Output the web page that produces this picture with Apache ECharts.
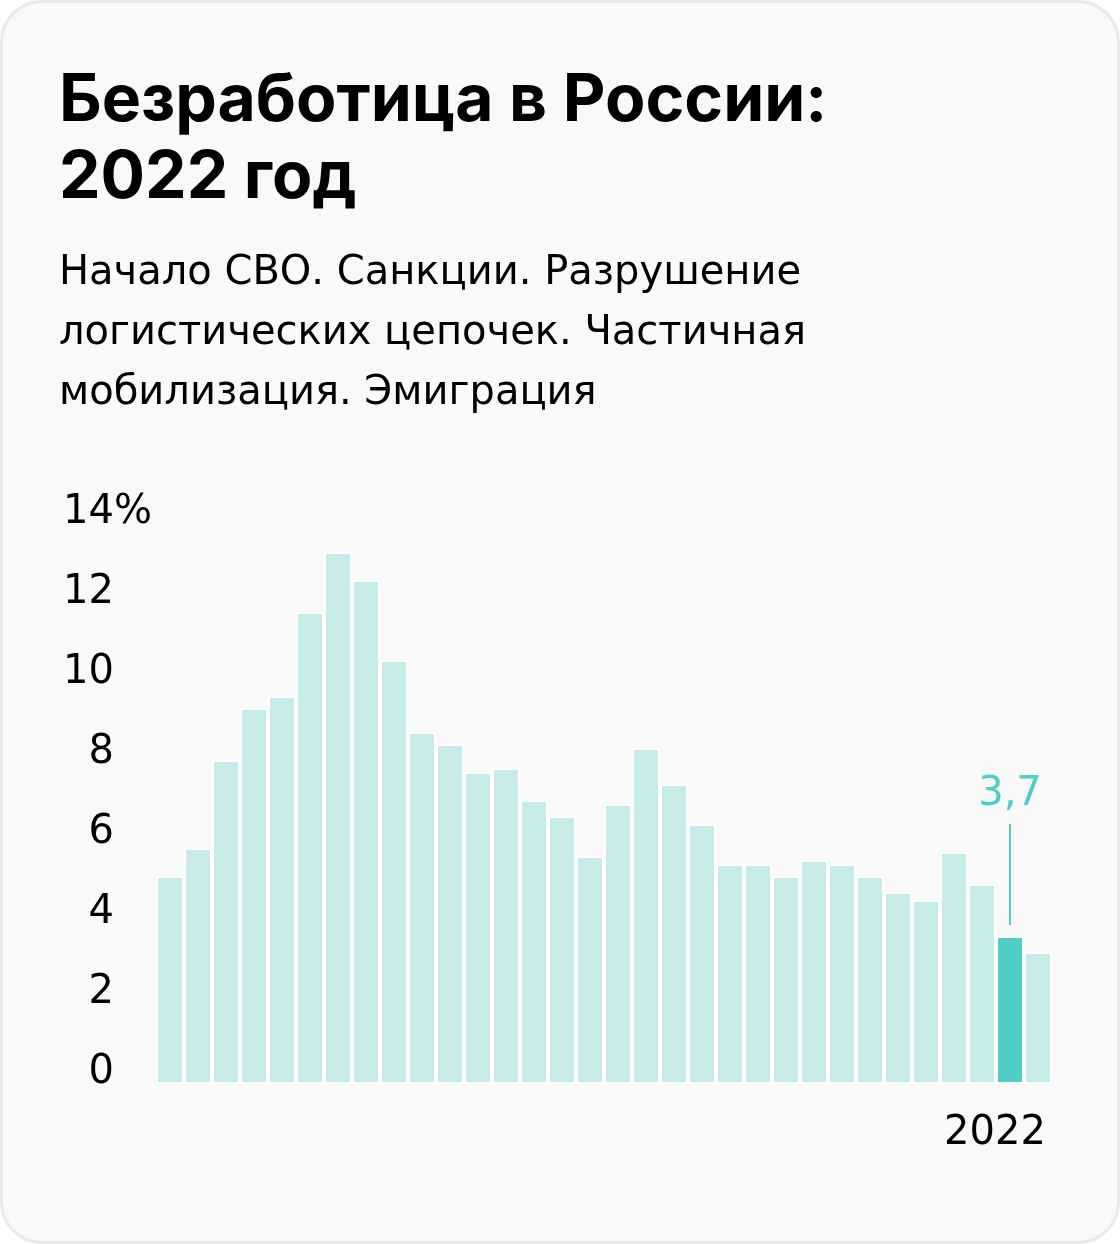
<!DOCTYPE html>
<html>
<head>
<meta charset="utf-8">
<script src="https://cdn.jsdelivr.net/npm/echarts@6/dist/echarts.min.js"></script>
<style>
html,body{margin:0;padding:0;background:#ffffff;width:1120px;height:1244px;overflow:hidden;}
#card{position:absolute;left:0;top:0;width:1114px;height:1238px;border:3px solid #e9e9e9;border-radius:42px;background:#f9f9f9;}
#chart{position:absolute;left:0;top:0;width:1120px;height:1244px;}
</style>
</head>
<body>
<div id="card"></div>
<div id="chart"></div>
<script>
// ---- data ----
const titleLines = ['Безработица в России:', '2022 год'];
const subtitleLines = ['Начало СВО. Санкции. Разрушение', 'логистических цепочек. Частичная', 'мобилизация. Эмиграция'];
const years = ['1992','1993','1994','1995','1996','1997','1998','1999','2000','2001','2002','2003','2004','2005','2006','2007',
               '2008','2009','2010','2011','2012','2013','2014','2015','2016','2017','2018','2019','2020','2021','2022','2023'];
const unemployment = [5.2, 5.9, 8.1, 9.4, 9.7, 11.8, 13.3, 12.6, 10.6, 8.8, 8.5, 7.8, 7.9, 7.1, 6.7, 5.7,
                      7.0, 8.4, 7.5, 6.5, 5.5, 5.5, 5.2, 5.6, 5.5, 5.2, 4.8, 4.6, 5.8, 5.0, 3.7, 3.3];
const highlightYear = '2022';
const xLabelYears = ['2022'];
const yTickValues = [0, 2, 4, 6, 8, 10, 12, 14];

// ---- style ----
const TITLE_FONT = 'Inter';
const FONT = 'DejaVu Sans';
const LIGHT = '#c6ebe8';
const DARK = '#50cdc4';

const chart = echarts.init(document.getElementById('chart'), null, {renderer: 'canvas'});
const yMax = yTickValues[yTickValues.length - 1];
const yStep = yTickValues[1] - yTickValues[0];

const option = {
  backgroundColor: 'transparent',
  animation: false,
  title: [
    {
      text: titleLines.join('\n'),
      left: 59, top: 63, padding: 0,
      textStyle: {fontFamily: TITLE_FONT, fontWeight: 'bold', fontSize: 66, lineHeight: 77, color: '#000'}
    },
    {
      text: subtitleLines.join('\n'),
      left: 59, top: 244, padding: 0,
      textStyle: {fontFamily: FONT, fontWeight: 'normal', fontSize: 40, lineHeight: 60, color: '#000'}
    }
  ],
  grid: {left: 156, right: 68, top: 524, bottom: 160, containLabel: false},
  xAxis: {
    type: 'category',
    data: years,
    axisLine: {show: false},
    axisTick: {show: false},
    axisLabel: {
      interval: 0,
      formatter: v => xLabelYears.indexOf(v) >= 0 ? v : '',
      fontFamily: FONT, fontSize: 40, lineHeight: 30, color: '#000',
      verticalAlign: 'top', margin: 35,
      padding: [0, 30, 0, 0]
    }
  },
  yAxis: {
    type: 'value',
    min: 0, max: yMax, interval: yStep,
    splitLine: {show: false},
    axisLine: {show: false},
    axisTick: {show: false},
    axisLabel: {
      fontFamily: FONT, fontSize: 40, lineHeight: 22, color: '#000',
      align: 'left', verticalAlign: 'bottom', margin: 92,
      formatter: v => v === yMax ? '{n|' + v + '}{p|%}' : '{n|' + v + '}',
      rich: {
        n: {fontFamily: FONT, fontSize: 40, lineHeight: 22, color: '#000', width: 50, align: 'right'},
        p: {fontFamily: FONT, fontSize: 40, lineHeight: 22, color: '#000', align: 'right'}
      }
    }
  },
  series: [{
    type: 'bar',
    barCategoryGap: 0,
    itemStyle: {borderColor: '#ffffff', borderWidth: 2},
    data: unemployment.map((v, i) => {
      const hl = years[i] === highlightYear;
      const item = {value: v, itemStyle: {color: hl ? DARK : LIGHT}};
      if (hl) {
        item.label = {
          show: true,
          position: 'top',
          distance: 11,
          formatter: p => '{v|' + String(p.value).replace('.', ',') + '}\n{l| }',
          rich: {
            v: {fontFamily: FONT, fontSize: 40, lineHeight: 58, color: DARK, align: 'center'},
            l: {width: 2, height: 101, lineHeight: 101, fontSize: 2, backgroundColor: DARK, align: 'center'}
          }
        };
      }
      return item;
    })
  }]
};
chart.setOption(option);
</script>
</body>
</html>
